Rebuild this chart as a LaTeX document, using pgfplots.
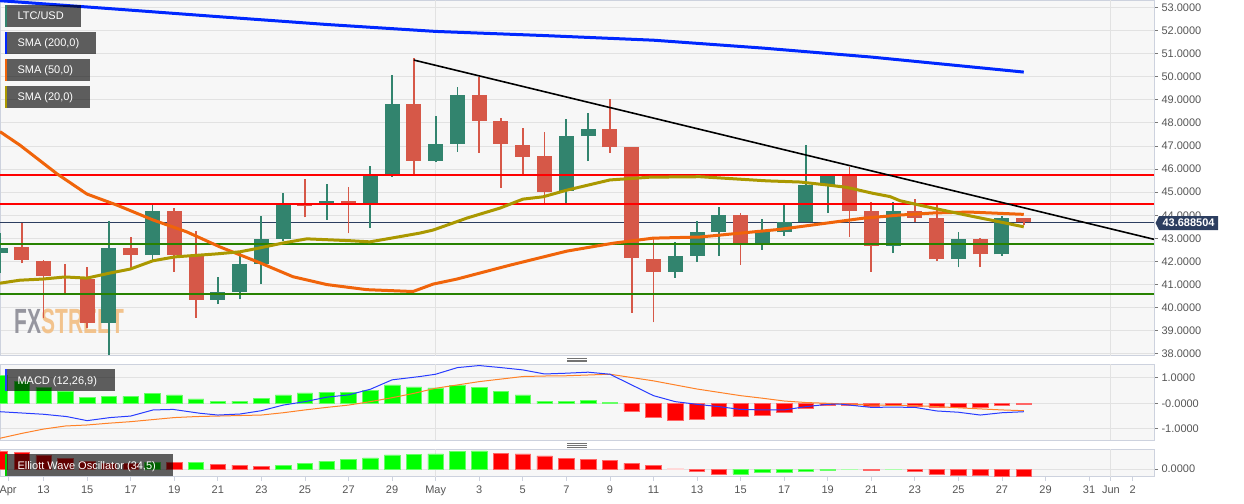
\documentclass[border=0pt]{standalone}
\usepackage{fontspec}
\setmainfont{Liberation Sans}
\usepackage{pgfplots}
\pgfplotsset{compat=1.18}
\usepackage{pgfplotstable}

\definecolor{candleup}{RGB}{50,132,110}
\definecolor{candledown}{RGB}{214,88,72}
\definecolor{smablue}{RGB}{0,40,255}
\definecolor{smaorange}{RGB}{240,100,10}
\definecolor{smaolive}{RGB}{170,152,0}
\definecolor{levelred}{RGB}{255,0,0}
\definecolor{levelgreen}{RGB}{40,130,0}
\definecolor{priceline}{RGB}{44,62,96}
\definecolor{gridcol}{RGB}{226,226,226}
\definecolor{panelbg}{RGB}{247,247,247}
\definecolor{panelborder}{RGB}{205,210,222}
\definecolor{labelcol}{RGB}{85,85,85}
\definecolor{tickcol}{RGB}{120,120,120}
\definecolor{macdblue}{RGB}{40,60,255}
\definecolor{macdorange}{RGB}{255,130,40}
\definecolor{histgreen}{RGB}{0,255,0}
\definecolor{histred}{RGB}{255,0,0}
\definecolor{wmgray}{RGB}{140,140,150}
\definecolor{wmorange}{RGB}{242,190,130}

% daily candles: day offset from 1 May, open, high, low, close
\pgfplotstableread{
d   o      h      l      c
-20 42.36  43.22  41.49  42.57
-15 39.33  43.77  37.96  42.57
-13 42.28  44.45  42.07  44.19
-10 40.34  41.32  40.15  40.68
-9  40.70  42.36  40.36  41.88
-8  41.89  43.97  41.03  42.98
-7  42.98  44.98  42.90  44.49
-5  44.45  45.36  43.80  44.61
-3  44.55  46.13  43.47  45.72
-2  45.74  50.07  45.67  48.80
0   46.37  48.30  46.32  47.09
1   47.09  49.54  46.75  49.22
6   45.03  48.17  44.55  47.43
7   47.43  48.41  46.35  47.72
11  41.56  42.83  41.30  42.24
12  42.24  43.75  41.99  43.26
13  43.26  44.35  42.24  44.01
15  42.72  43.84  42.50  43.26
16  43.26  44.46  43.11  43.70
17  43.70  47.04  43.70  45.31
18  45.31  45.75  44.09  45.70
21  42.69  44.59  42.36  44.20
24  42.10  43.29  41.74  42.96
26  42.31  43.98  42.25  43.87
}\upcandles

\pgfplotstableread{
d   o      h      l      c
-19 42.61  43.68  41.92  42.07
-18 42.04  42.06  39.54  41.37
-17 41.37  41.89  40.62  41.33
-16 41.23  41.78  39.11  39.33
-14 42.57  43.05  41.70  42.28
-12 44.20  44.30  41.56  42.28
-11 42.28  43.32  39.57  40.34
-6  44.49  45.56  43.91  44.42
-4  44.61  45.21  43.22  44.55
-1  48.80  50.79  45.74  46.37
2   49.22  49.97  46.71  48.10
3   48.10  48.21  45.20  47.09
4   47.04  47.78  45.79  46.54
5   46.57  47.61  44.55  45.00
8   47.72  49.03  46.71  46.94
9   46.94  46.94  39.79  42.17
10  42.11  43.00  39.36  41.56
14  44.01  44.12  41.85  42.79
19  45.70  46.08  43.05  44.20
20  44.20  44.59  41.56  42.69
22  44.20  44.69  43.73  43.90
23  43.90  44.49  42.04  42.10
25  42.96  43.00  41.78  42.31
27  43.87  43.87  43.58  43.6885
}\downcandles

\pgfplotsset{
  panel/.style={
    scale only axis, width=1154pt,
    xmin=-20, xmax=32.98,
    axis background/.style={fill=panelbg},
    axis line style={draw=panelborder, line width=0.9pt},
    grid style={draw=gridcol, line width=0.9pt},
    tick style={draw=tickcol, line width=0.8pt},
    ticklabel style={font=\fontsize{11}{13}\selectfont, text=labelcol},
    /pgf/number format/assume math mode=true,
    ytick pos=right, yticklabel pos=right,
    xtick pos=bottom,
    tick align=outside, major tick length=4pt,
    ymajorgrids,
  },
  wick/.style={draw=none, mark=none,
    error bars/.cd, y dir=plus, y explicit, error mark=none,
    error bar style={line width=1.8pt, draw=#1}},
  body/.style={draw=none, mark=none,
    error bars/.cd, y dir=plus, y explicit, error mark=none,
    error bar style={line width=15pt, draw=#1}},
  hist/.style={ybar, bar width=15.5pt, bar shift=0pt, fill=#1, draw=#1!60!white, line width=0.6pt},
}

\begin{document}
\begin{tikzpicture}

% ---------------- price panel ----------------
\begin{axis}[panel, at={(0pt,0pt)}, anchor=north west, height=355.5pt,
  ymin=37.93, ymax=53.32,
  ytick={38,39,...,53},
  yticklabels={38.0000,39.0000,40.0000,41.0000,42.0000,43.0000,44.0000,45.0000,46.0000,47.0000,48.0000,49.0000,50.0000,51.0000,52.0000,53.0000},
  xtick=\empty]
  \draw[gridcol, line width=0.9pt] (axis cs:0,37.93) -- (axis cs:0,53.32);
  \draw[gridcol, line width=0.9pt] (axis cs:31,37.93) -- (axis cs:31,53.32);
  \node[anchor=base west, inner sep=0pt, xscale=0.6,
        font=\fontsize{35}{35}\selectfont\bfseries, opacity=0.9]
        at (axis cs:-19.32,38.87) {\textcolor{wmgray}{FX}\textcolor{wmorange}{STREET}};
  \addplot[priceline, line width=1pt] coordinates {(-20,43.6885) (33,43.6885)};
  % candles
  \addplot[wick=candleup] table[x=d, y=l, y error plus expr=\thisrow{h}-\thisrow{l}] {\upcandles};
  \addplot[body=candleup] table[x=d, y=o, y error plus expr=\thisrow{c}-\thisrow{o}] {\upcandles};
  \addplot[wick=candledown] table[x=d, y=l, y error plus expr=\thisrow{h}-\thisrow{l}] {\downcandles};
  \addplot[body=candledown] table[x=d, y=c, y error plus expr=\thisrow{o}-\thisrow{c}] {\downcandles};
  % horizontal levels
  \addplot[levelred, line width=2pt] coordinates {(-20,45.745) (33,45.745)};
  \addplot[levelred, line width=2pt] coordinates {(-20,44.49) (33,44.49)};
  \addplot[levelgreen, line width=2pt] coordinates {(-20,42.76) (33,42.76)};
  \addplot[levelgreen, line width=2pt] coordinates {(-20,40.59) (33,40.59)};
  % SMA 200
  \addplot[smablue, line width=3pt] coordinates {
    (-20,53.29) (-15,52.95) (-10,52.60) (-5,52.26) (0,51.96) (5,51.78)
    (10,51.58) (15,51.24) (20,50.85) (27,50.20)};
  % SMA 50
  \addplot[smaorange, line width=3pt] coordinates {
    (-20,47.62) (-19.09,47.04) (-17.39,45.80) (-16.01,44.92) (-14.63,44.44)
    (-12.98,43.80) (-11.42,43.28) (-9.90,42.63) (-8.06,41.94) (-6.55,41.34)
    (-4.99,41.00) (-3.16,40.78) (-1.04,40.70) (-0.12,41.02) (0.98,41.24)
    (3.41,41.84) (6.03,42.45) (8.14,42.79) (9.98,43.01) (12.14,43.06)
    (14.57,43.28) (15.8,43.39) (17.3,43.58) (19.6,43.87) (21.3,44.01)
    (22.84,44.10) (24.5,44.14) (27,44.04)};
  % SMA 20
  \addplot[smaolive, line width=3pt] coordinates {
    (-20,41.06) (-19.09,41.19) (-18.03,41.24) (-17.02,41.33) (-16.01,41.28)
    (-14.95,41.50) (-14.03,41.67) (-12.98,42.03) (-11.97,42.20) (-10.04,42.33)
    (-8.98,42.42) (-8.06,42.59) (-7.01,42.80) (-5.91,42.98) (-3.94,42.90)
    (-3.02,42.85) (-2.10,43.00) (-0.72,43.23) (-0.12,43.36) (1.44,43.88)
    (2.95,44.31) (4.01,44.70) (4.93,44.80) (6.03,45.09) (8.00,45.53)
    (9.84,45.65) (12.14,45.67) (15.22,45.49) (16.73,45.44) (18.0,45.31)
    (18.87,45.21) (20.08,44.95) (20.86,44.81) (21.32,44.63) (22.84,44.31)
    (24.4,44.00) (25.92,43.71) (27.0,43.50)};
  % falling trend line
  \addplot[black, line width=1.6pt] coordinates {(-1,50.72) (32.98,42.96)};
\end{axis}

% ---------------- MACD panel ----------------
\begin{axis}[panel, at={(0pt,-364.3pt)}, anchor=north west, height=75.7pt,
  ymin=-1.439, ymax=1.529,
  ytick={-1,0,1}, yticklabels={-1.0000,-0.0000,1.0000},
  xtick=\empty]
  \draw[gridcol, line width=0.9pt] (axis cs:0,-1.439) -- (axis cs:0,1.529);
  \draw[gridcol, line width=0.9pt] (axis cs:31,-1.439) -- (axis cs:31,1.529);
  \addplot[hist=histgreen] coordinates {
    (-20,1.08) (-19,0.85) (-18,0.63) (-17,0.46) (-16,0.22) (-15,0.26) (-14,0.27)
    (-13,0.39) (-12,0.33) (-11,0.17) (-10,0.065) (-9,0.09) (-8,0.18) (-7,0.33)
    (-6,0.41) (-5,0.44) (-4,0.44) (-3,0.51) (-2,0.72) (-1,0.64) (0,0.60)
    (1,0.69) (2,0.63) (3,0.48) (4,0.33) (5,0.09) (6,0.09) (7,0.10) (8,0.05)};
  \addplot[hist=histred] coordinates {
    (9,-0.30) (10,-0.56) (11,-0.67) (12,-0.63) (13,-0.52) (14,-0.52) (15,-0.46)
    (16,-0.37) (17,-0.20) (18,-0.07) (19,-0.07) (20,-0.13) (21,-0.09) (22,-0.10)
    (23,-0.16) (24,-0.16) (25,-0.17) (26,-0.09) (27,-0.05)};
  % signal line
  \addplot[macdorange, line width=1pt] coordinates {
    (-20,-1.37) (-19,-1.18) (-18,-1.01) (-17,-0.89) (-16,-0.85) (-15,-0.78)
    (-14,-0.72) (-13,-0.64) (-12,-0.56) (-11,-0.52) (-10,-0.50) (-9,-0.48)
    (-8,-0.46) (-7,-0.37) (-6,-0.26) (-5,-0.16) (-4,-0.07) (-3,0.065)
    (-2,0.22) (-1,0.39) (0,0.59) (1,0.72) (2,0.85) (3,0.95) (4,1.05) (5,1.07)
    (6,1.08) (7,1.11) (8,1.14) (9,1.01) (10,0.88) (11,0.72) (12,0.56) (13,0.43)
    (14,0.30) (15,0.20) (16,0.09) (17,0.03) (18,0.00) (20,-0.07) (22,-0.09)
    (23,-0.13) (25,-0.22) (26,-0.26) (27,-0.29)};
  % MACD line
  \addplot[macdblue, line width=1pt] coordinates {
    (-20,-0.33) (-18,-0.43) (-16.94,-0.52) (-16,-0.68) (-14.95,-0.56) (-14,-0.50)
    (-12.97,-0.26) (-12.05,-0.24) (-10.82,-0.39) (-10,-0.46) (-8.98,-0.42)
    (-8,-0.29) (-7,-0.07) (-6,0.065) (-5,0.24) (-4,0.33) (-3,0.55) (-2,0.92)
    (-0.72,1.05) (0,1.14) (1,1.40) (2,1.48) (3,1.40) (4,1.31) (5,1.15) (6,1.18)
    (7,1.22) (8,1.14) (9,0.72) (10,0.30) (11,0.065) (12,-0.04) (13,-0.13)
    (14,-0.24) (15,-0.26) (16,-0.26) (17,-0.13) (18,-0.04) (18.56,-0.03)
    (20,-0.16) (21,-0.15) (22,-0.16) (23,-0.30) (24,-0.35) (25,-0.46)
    (26,-0.37) (27,-0.33)};
\end{axis}

% ---------------- Elliott Wave Oscillator panel ----------------
\begin{axis}[panel, at={(0pt,-449.3pt)}, anchor=north west, height=27.4pt,
  ymin=-2.3, ymax=5.9,
  ytick={0}, yticklabels={0.0000},
  xtick={-19.63,-18,-16,-14,-12,-10,-8,-6,-4,-2,0,2,4,6,8,10,12,14,16,18,20,22,24,26,28,30,31,32},
  xticklabels={Apr,13,15,17,19,21,23,25,27,29,May,3,5,7,9,11,13,15,17,19,21,23,25,27,29,31,Jun,2},
  xticklabel style={yshift=-1.5pt},
  x tick style={draw=panelborder}]
  \draw[gridcol, line width=0.9pt] (axis cs:0,-2.3) -- (axis cs:0,5.9);
  \draw[gridcol, line width=0.9pt] (axis cs:31,-2.3) -- (axis cs:31,5.9);
  \addplot[hist=histred] coordinates {
    (-20,5.2) (-19,4.9) (-18,4.0) (-17,3.2) (-16,2.2) (-15,1.8) (-14,1.7)
    (-12,1.9) (-10,1.4) (-9,1.2) (-8,0.7) (3,4.7) (4,4.5) (5,3.9) (6,3.2)
    (7,2.9) (8,2.6) (9,1.7) (10,1.0) (12,-0.8) (13,-1.6) (20,-0.3) (22,-0.6)
    (23,-1.5) (24,-1.8) (25,-2.0) (26,-2.1) (27,-2.1)};
  \addplot[hist=histred!25!white] coordinates {(11,0.2)};
  \addplot[hist=histgreen] coordinates {
    (-13,2.0) (-11,2.0) (-7,1.1) (-6,1.7) (-5,2.4) (-4,2.9) (-3,3.3) (-2,4.2)
    (-1,4.3) (0,4.5) (1,5.2) (2,5.4) (14,-1.5) (15,-1.1) (16,-0.9) (17,-0.6)
    (18,-0.4)};
  \addplot[hist=histgreen!55!white] coordinates {(19,-0.2) (21,-0.2)};
\end{axis}

% ---------------- panel captions ----------------
\begin{scope}[font=\fontsize{11}{13}\selectfont]
  \fill[black, opacity=0.62] (5pt,-5.3pt) rectangle (80.7pt,-26.7pt);
  \fill[candleup] (5pt,-5.3pt) rectangle (7.3pt,-26.7pt);
  \node[anchor=base west, inner sep=0pt, text=white] at (17.3pt,-20pt) {LTC/USD};

  \fill[black, opacity=0.62] (5pt,-32.3pt) rectangle (96pt,-53.7pt);
  \fill[smablue] (5pt,-32.3pt) rectangle (7.3pt,-53.7pt);
  \node[anchor=base west, inner sep=0pt, text=white] at (17.3pt,-47pt) {SMA (200,0)};

  \fill[black, opacity=0.62] (5pt,-59.3pt) rectangle (90pt,-80.7pt);
  \fill[smaorange] (5pt,-59.3pt) rectangle (7.3pt,-80.7pt);
  \node[anchor=base west, inner sep=0pt, text=white] at (17.3pt,-74pt) {SMA (50,0)};

  \fill[black, opacity=0.62] (5pt,-86pt) rectangle (90pt,-107.7pt);
  \fill[smaolive] (5pt,-86pt) rectangle (7.3pt,-107.7pt);
  \node[anchor=base west, inner sep=0pt, text=white] at (17.3pt,-100.8pt) {SMA (20,0)};

  \fill[black, opacity=0.62] (5pt,-369pt) rectangle (115pt,-391pt);
  \fill[macdblue] (5pt,-369pt) rectangle (7.3pt,-391pt);
  \node[anchor=base west, inner sep=0pt, text=white] at (17.3pt,-384pt) {MACD (12,26,9)};

  \fill[black, opacity=0.62] (5pt,-454pt) rectangle (173pt,-476pt);
  \fill[histgreen!80!black] (5pt,-454pt) rectangle (7.3pt,-476pt);
  \node[anchor=base west, inner sep=0pt, text=white] at (17.3pt,-469pt) {Elliott Wave Oscillator (34,5)};

  % last price tag
  \fill[priceline] (1155.5pt,-223pt) -- (1159pt,-216pt) -- (1218pt,-216pt)
        -- (1218pt,-230pt) -- (1159pt,-230pt) -- cycle;
  \node[inner sep=0pt, text=white, font=\fontsize{11}{13}\selectfont\bfseries]
        at (1188.5pt,-223pt) {43.688504};
\end{scope}

% panel resize handles
\foreach \yy in {358.3,360,361.7,443.7,445.5,447.3}
  \draw[black!55, line width=0.6pt] (567pt,-\yy pt) -- (587pt,-\yy pt);

\pgfresetboundingbox
\path (0pt,0pt) rectangle (1244pt,-503pt);
\end{tikzpicture}
\end{document}
